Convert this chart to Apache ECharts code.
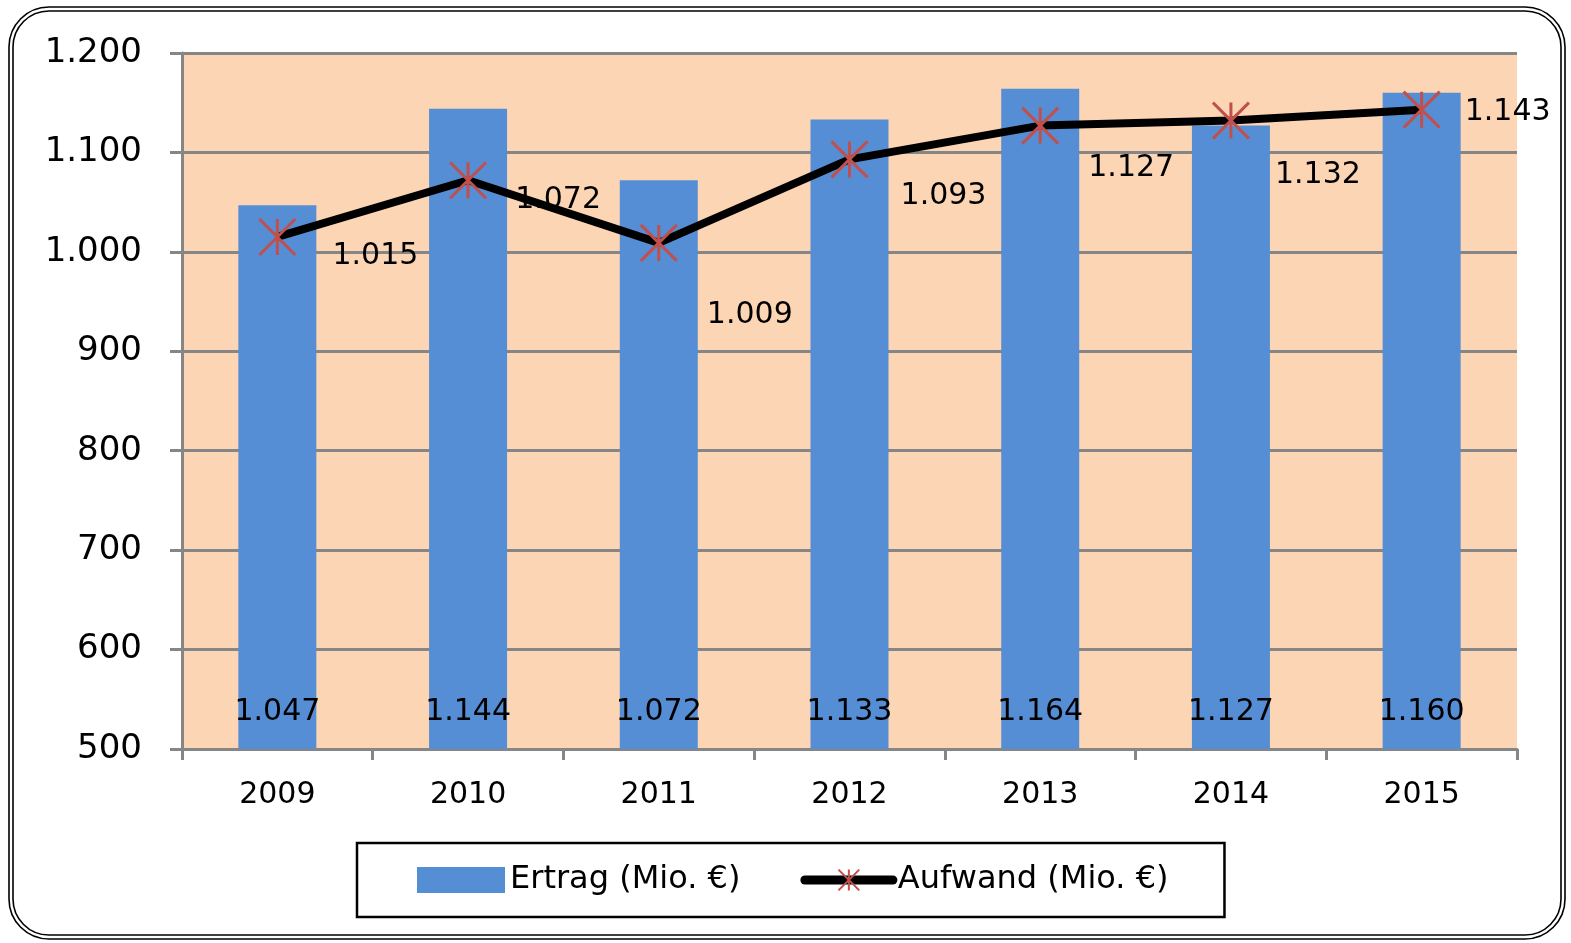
<!DOCTYPE html>
<html>
<head>
<meta charset="utf-8">
<script src="https://cdn.jsdelivr.net/npm/echarts@6/dist/echarts.min.js"></script>
<style>
  html, body { margin: 0; padding: 0; background: #fff; }
  #main { width: 1571px; height: 943px; }
</style>
</head>
<body>
<div id="main"></div>
<script>
// Daten
const years = ["2009", "2010", "2011", "2012", "2013", "2014", "2015"];
const ertrag = [1047, 1144, 1072, 1133, 1164, 1127, 1160];
const aufwand = [1015, 1072, 1009, 1093, 1127, 1132, 1143];
// Label-Versatz der Linienwerte (nur Darstellung)
const aufwandLabelOffsets = [[98, 19], [90, 20], [91, 72], [94, 37], [91, 43], [87, 55], [86, 3]];

const FONT = "DejaVu Sans";
const fmt = (v) => {
  const s = String(Math.round(v));
  return s.length > 3 ? s.slice(0, -3) + "." + s.slice(-3) : s;
};

const chart = echarts.init(document.getElementById("main"));

const option = {
  backgroundColor: "#fff",
  animation: false,
  textStyle: { fontFamily: FONT, color: "#000" },
  graphic: [
    {
      type: "rect",
      shape: { x: 9, y: 7, width: 1556, height: 932, r: 40 },
      style: { fill: "none", stroke: "#000", lineWidth: 1.6 }
    },
    {
      type: "rect",
      shape: { x: 13, y: 11, width: 1548, height: 924, r: 36 },
      style: { fill: "none", stroke: "#000", lineWidth: 1.6 }
    }
  ],
  grid: {
    left: 182,
    right: 54,
    top: 53,
    bottom: 194,
    show: true,
    backgroundColor: "#FCD5B5",
    borderWidth: 0
  },
  legend: {
    left: 357,
    top: 843,
    padding: [21, 56, 21, 60],
    itemGap: 60,
    itemWidth: 88,
    itemHeight: 26,
    borderColor: "#000",
    borderWidth: 2.5,
    textStyle: { fontFamily: FONT, fontSize: 32, color: "#000" },
    data: [
      { name: "Ertrag (Mio. €)", icon: "rect" },
      { name: "Aufwand (Mio. €)", lineStyle: { width: 9, color: "#000", cap: "round" } }
    ]
  },
  xAxis: {
    type: "category",
    data: years,
    boundaryGap: true,
    axisLine: { lineStyle: { color: "#868686", width: 3 } },
    axisTick: { show: true, length: 11, lineStyle: { color: "#868686", width: 3 } },
    axisLabel: { fontFamily: FONT, fontSize: 30, color: "#000", margin: 31 }
  },
  yAxis: {
    type: "value",
    min: 500,
    max: 1200,
    interval: 100,
    axisLine: { show: true, lineStyle: { color: "#868686", width: 3 } },
    axisTick: { show: true, length: 12, lineStyle: { color: "#868686", width: 3 } },
    splitLine: { lineStyle: { color: "#868686", width: 3 } },
    axisLabel: { fontFamily: FONT, fontSize: 34, color: "#000", margin: 40, formatter: fmt }
  },
  series: [
    {
      name: "Ertrag (Mio. €)",
      type: "bar",
      data: ertrag,
      barWidth: 78,
      itemStyle: { color: "#558ED5" },
      label: {
        show: true,
        position: "insideBottom",
        distance: 22,
        fontFamily: FONT,
        fontSize: 30,
        color: "#000",
        formatter: (p) => fmt(p.value)
      }
    },
    {
      name: "Aufwand (Mio. €)",
      type: "line",
      data: aufwand.map((v, i) => ({
        value: v,
        label: { offset: aufwandLabelOffsets[i] }
      })),
      symbol: "path://M0 0 L36 36 M36 0 L0 36 M18 0 L18 36",
      symbolSize: 36,
      itemStyle: { color: "rgba(0,0,0,0)", borderColor: "#C0504D", borderWidth: 3 },
      lineStyle: { color: "#000", width: 8 },
      z: 5,
      label: {
        show: true,
        position: "inside",
        fontFamily: FONT,
        fontSize: 30,
        color: "#000",
        formatter: (p) => fmt(p.value)
      }
    }
  ]
};

chart.setOption(option);
</script>
</body>
</html>
